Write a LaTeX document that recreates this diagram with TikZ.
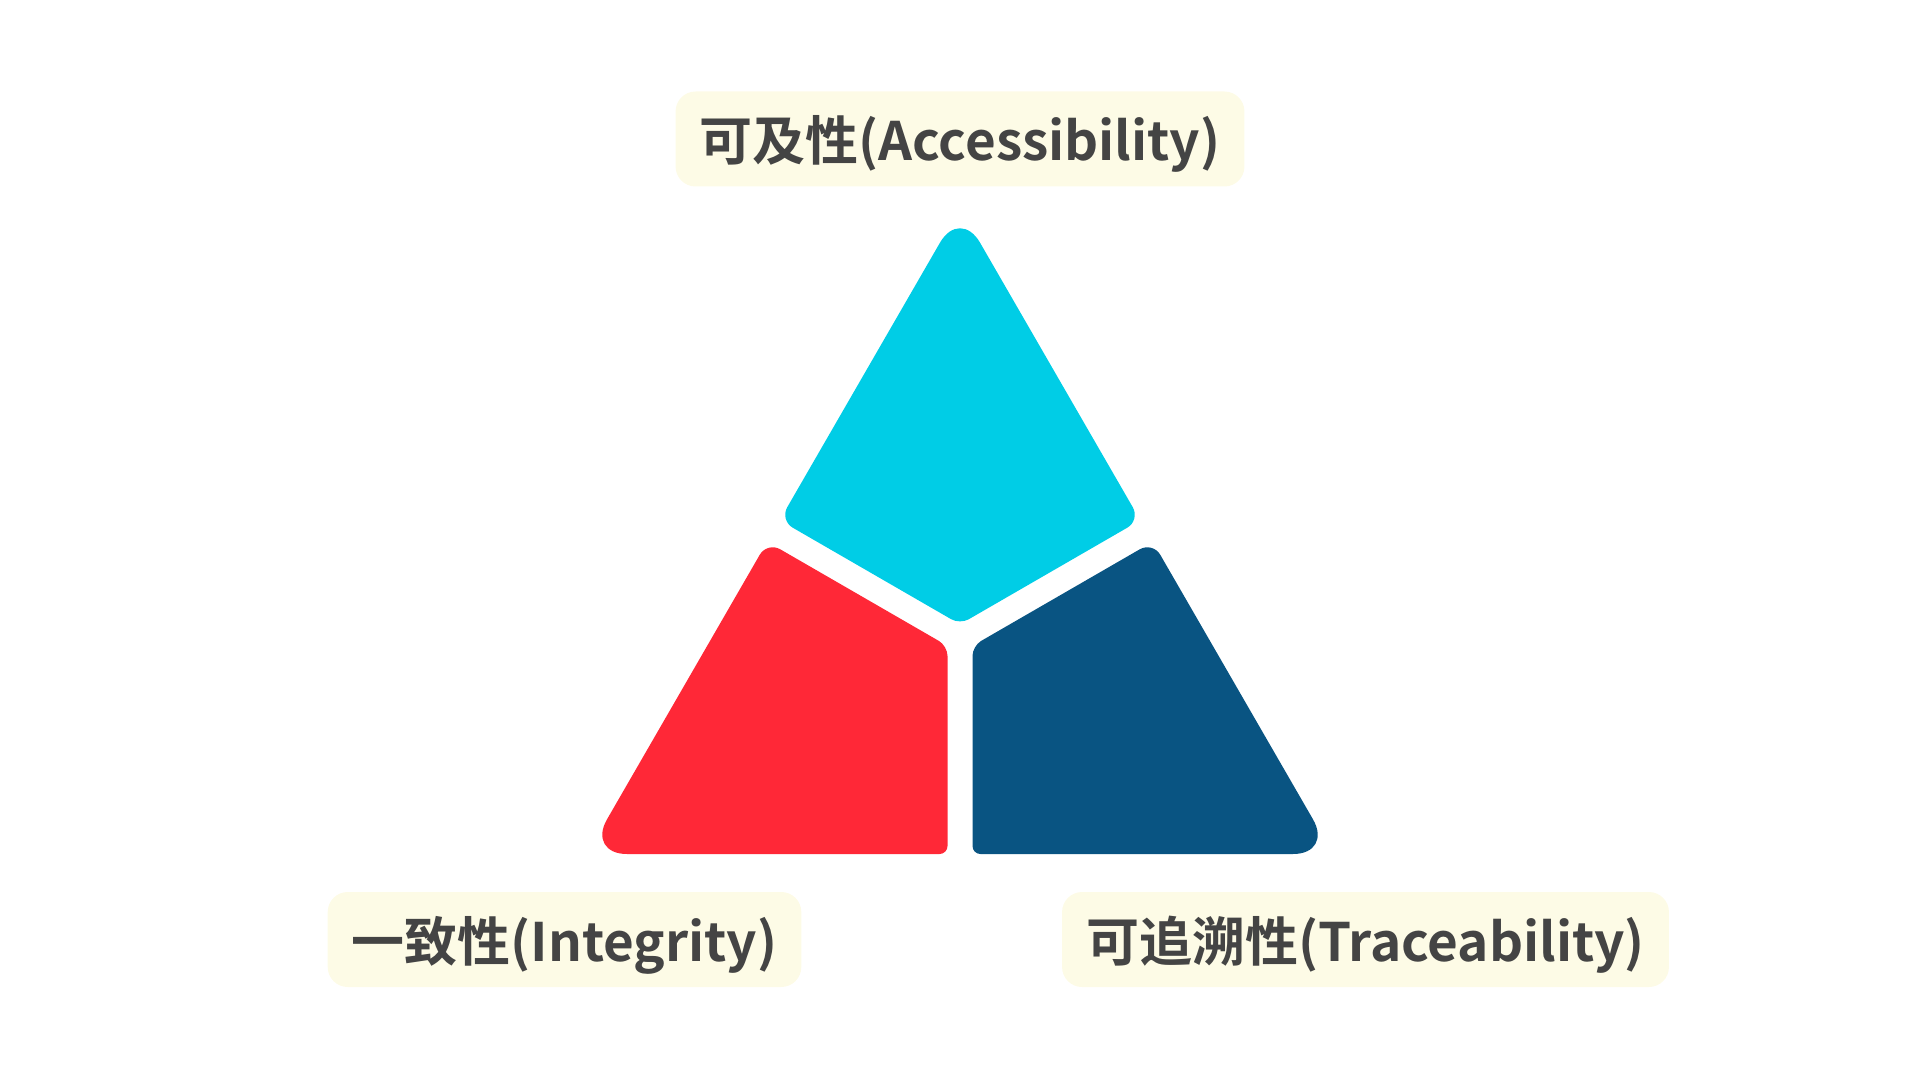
\documentclass[tikz,border=0pt]{standalone}
\usepackage{fontspec}
\newfontfamily\cjk{Noto Sans CJK SC}[BoldFont={* Bold}]
\usetikzlibrary{calc}
\definecolor{acccyan}{HTML}{00CDE6}
\definecolor{intred}{HTML}{FF2837}
\definecolor{trcblue}{HTML}{095482}
\definecolor{labelbg}{HTML}{FDFBE6}
\definecolor{labeltxt}{HTML}{444444}
\begin{document}
\begin{tikzpicture}[x=0.5pt, y=-0.5pt]
      \tikzstyle{lnode} = [fill=labelbg, rounded corners = 10pt, minimum height = 47.5pt, inner xsep = 12pt, text depth = 1pt, text=labeltxt, font=\cjk\bfseries\fontsize{26.5pt}{30pt}\selectfont]
      \useasboundingbox (0,0) rectangle (1920,1080);

      %%%%%%%%%%%%%%%%%%%%%%%%%%%%%% 
      %% corner points of the three pieces
      %%%%%%%%%%%%%%%%%%%%%%%%%%%%%% 
      \coordinate (T) at (960,208);
      \coordinate (mlc) at (779.75,520.2);
      \coordinate (mrc) at (1140.25,520.2);
      \coordinate (cc) at (960,624.3);

      \coordinate (L) at (587,854);
      \coordinate (mlr) at (767.25,541.8);
      \coordinate (ri) at (947.5,645.9);
      \coordinate (rb) at (947.5,854);

      \coordinate (R) at (1333,854);
      \coordinate (mrb) at (1152.75,541.8);
      \coordinate (bi) at (972.5,645.9);
      \coordinate (bb) at (972.5,854);

      %%%%%%%%%%%%%%%%%%%%%%%%%%%%%% 
      %% the pieces
      %%%%%%%%%%%%%%%%%%%%%%%%%%%%%% 
      \fill[acccyan] ($(T)!0.5!(mlc)$) [rounded corners=20pt] -- (T) [rounded corners=7.5pt] -- (mrc) [rounded corners=5pt] -- (cc) [rounded corners=7.5pt] -- (mlc) -- cycle;
      \fill[intred] ($(L)!0.5!(mlr)$) [rounded corners=7.5pt] -- (mlr) [rounded corners=5pt] -- (ri) [rounded corners=4pt] -- (rb) [rounded corners=20pt] -- (L) -- cycle;
      \fill[trcblue] ($(R)!0.5!(mrb)$) [rounded corners=7.5pt] -- (mrb) [rounded corners=5pt] -- (bi) [rounded corners=4pt] -- (bb) [rounded corners=20pt] -- (R) -- cycle;

      %%%%%%%%%%%%%%%%%%%%%%%%%%%%%% 
      %% the labels
      %%%%%%%%%%%%%%%%%%%%%%%%%%%%%% 
      \node[lnode] (acc) at (960,139) {可及性(Accessibility)};
      \node[lnode] (int) at (564.5,939.5) {一致性(Integrity)};
      \node[lnode] (trc) at (1365.5,939.5) {可追溯性(Traceability)};
\end{tikzpicture}
\end{document}
